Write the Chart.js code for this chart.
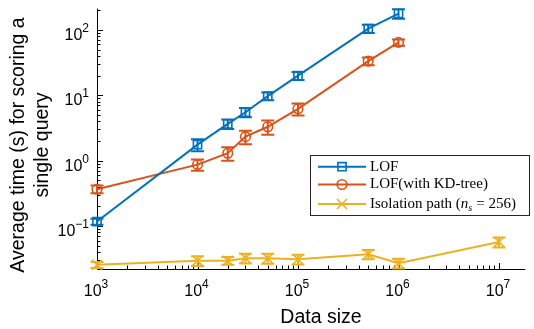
<!DOCTYPE html>
<html lang="en">
<head>
<meta charset="UTF-8">
<title>Scoring time vs data size</title>
<script src="https://cdn.jsdelivr.net/npm/chart.js"></script>
<style>
  html, body { margin: 0; padding: 0; background: #fff; }
  #wrap { width: 534px; height: 329px; }
</style>
</head>
<body>
<div id="wrap"><canvas id="timeChart" width="534" height="329"></canvas></div>
<script>
// data
const sizes = [1e3, 1e4, 2e4, 3e4, 5e4, 1e5, 5e5, 1e6];
const isoSizes = [1e3, 1e4, 2e4, 3e4, 5e4, 1e5, 5e5, 1e6, 1e7];

const lofTime = [0.117, 1.76, 3.65, 5.5, 9.7, 20, 105, 178];
const lofErr = [0.012, 0.37, 0.6, 0.9, 1.3, 2.8, 15, 30];

const kdTime = [0.366, 0.87, 1.30, 2.33, 3.3, 6.2, 33.4, 64.5];
const kdErr = [0.05, 0.17, 0.3, 0.55, 0.8, 1.3, 4.5, 7];

const isoTime = [0.0255, 0.0295, 0.0295, 0.0322, 0.032, 0.031, 0.037, 0.0269, 0.057];
const isoErr = [0.0027, 0.005, 0.004, 0.0055, 0.0055, 0.0053, 0.006, 0.0046, 0.01];

const xTickExps = [3, 4, 5, 6, 7];
const yTickExps = [-1, 0, 1, 2];

const BLUE = '#0072BD', ORANGE = '#D95319', YELLOW = '#EDB120';
const SANS = '"Liberation Sans", Arial, sans-serif';
const SERIF = '"Liberation Serif", "Times New Roman", serif';

function pts(xs, ys) {
    return xs.map((v, i) => ({ x: v, y: ys[i] }));
}

const series = [
    { label: 'LOF', xs: sizes, ys: lofTime, err: lofErr, color: BLUE, style: 'rect', r: 5.8 },
    { label: 'LOF(with KD-tree)', xs: sizes, ys: kdTime, err: kdErr, color: ORANGE, style: 'circle', r: 4.8 },
    { label: 'Isolation path', xs: isoSizes, ys: isoTime, err: isoErr, color: YELLOW, style: 'crossRot', r: 7 }
];

// draws "10" with a raised exponent
function drawPow(ctx, exp, x, y, align) {
    const ex = String(exp).replace('-', '\u2212');
    ctx.font = '16px ' + SANS;
    const wb = ctx.measureText('10').width;
    ctx.font = '12px ' + SANS;
    const we = ctx.measureText(ex).width;
    const start = align === 'right' ? x - wb - we : x - (wb + we) / 2;
    ctx.textAlign = 'left';
    ctx.textBaseline = 'alphabetic';
    ctx.font = '16px ' + SANS;
    ctx.fillText('10', start, y);
    ctx.font = '12px ' + SANS;
    ctx.fillText(ex, start + wb, y - 8);
}

const axesPlugin = {
    id: 'matlabAxes',
    beforeDatasetsDraw(chart) {
        const { ctx, chartArea: a, scales: { x, y } } = chart;
        ctx.save();
        ctx.strokeStyle = '#000';
        ctx.lineWidth = 1;
        ctx.beginPath();
        ctx.moveTo(a.left + 0.5, a.top);
        ctx.lineTo(a.left + 0.5, a.bottom + 0.5);
        ctx.lineTo(a.right, a.bottom + 0.5);
        // inward ticks, major and minor
        for (let e = 2; e <= 7; e++) {
            for (let m = 1; m < 10; m++) {
                const v = m * Math.pow(10, e);
                if (v < x.min || v > x.max) continue;
                const px = Math.round(x.getPixelForValue(v)) + 0.5;
                ctx.moveTo(px, a.bottom);
                ctx.lineTo(px, a.bottom - (m === 1 ? 6 : 3.5));
            }
        }
        for (let e = -2; e <= 2; e++) {
            for (let m = 1; m < 10; m++) {
                const v = m * Math.pow(10, e);
                if (v < y.min || v > y.max) continue;
                const py = Math.round(y.getPixelForValue(v)) + 0.5;
                ctx.moveTo(a.left, py);
                ctx.lineTo(a.left + (m === 1 ? 6 : 3.5), py);
            }
        }
        ctx.stroke();

        ctx.fillStyle = '#000';
        xTickExps.forEach(e => drawPow(ctx, e, x.getPixelForValue(Math.pow(10, e)) - 1, a.bottom + 27));
        yTickExps.forEach(e => drawPow(ctx, e, a.left - 8, y.getPixelForValue(Math.pow(10, e)) + 10, 'right'));

        // axis titles
        ctx.font = '19.5px ' + SANS;
        ctx.textAlign = 'center';
        ctx.textBaseline = 'alphabetic';
        ctx.fillText('Data size', 321, 323);
        ctx.save();
        ctx.rotate(-Math.PI / 2);
        ctx.textBaseline = 'middle';
        ctx.fillText('Average time (s) for scoring a', -145, 19);
        ctx.fillText('single query', -145, 43);
        ctx.restore();

        // error bars
        ctx.lineWidth = 2;
        series.forEach(s => {
            ctx.strokeStyle = s.color;
            ctx.beginPath();
            s.xs.forEach((xv, i) => {
                const px = x.getPixelForValue(xv);
                const lo = y.getPixelForValue(s.ys[i] - s.err[i]);
                const hi = y.getPixelForValue(s.ys[i] + s.err[i]);
                ctx.moveTo(px, lo); ctx.lineTo(px, hi);
                ctx.moveTo(px - 6.5, lo); ctx.lineTo(px + 6.5, lo);
                ctx.moveTo(px - 6.5, hi); ctx.lineTo(px + 6.5, hi);
            });
            ctx.stroke();
        });
        ctx.restore();
    },
    afterDraw(chart) {
        const ctx = chart.ctx;
        ctx.save();
        ctx.fillStyle = '#fff';
        ctx.fillRect(310.5, 155.5, 219, 60);
        ctx.strokeStyle = '#262626';
        ctx.lineWidth = 1;
        ctx.strokeRect(310.5, 155.5, 219, 60);
        const rows = [166.7, 184.5, 204];
        series.forEach((s, i) => {
            const ry = rows[i];
            ctx.strokeStyle = s.color;
            ctx.lineWidth = 2;
            ctx.beginPath();
            ctx.moveTo(318, ry); ctx.lineTo(366, ry);
            ctx.stroke();
            ctx.lineWidth = 1.6;
            ctx.fillStyle = 'rgba(0,0,0,0)';
            Chart.helpers.drawPoint(ctx, { pointStyle: s.style, radius: s.r, rotation: 0, borderWidth: 1.6 }, 342, ry);
            ctx.fillStyle = '#000';
            ctx.textAlign = 'left';
            ctx.textBaseline = 'middle';
            ctx.font = '15px ' + SERIF;
            ctx.fillText(s.label, 370, ry);
            if (i === 2) {
                let tx = 370 + ctx.measureText(s.label + ' (').width;
                ctx.fillText('(', 370 + ctx.measureText(s.label + ' ').width, ry);
                ctx.font = 'italic 15px ' + SERIF;
                ctx.fillText('n', tx, ry);
                tx += ctx.measureText('n').width;
                ctx.font = 'italic 10px ' + SERIF;
                ctx.fillText('s', tx, ry + 4);
                tx += ctx.measureText('s').width + 4;
                ctx.font = '15px ' + SERIF;
                ctx.fillText('= 256)', tx, ry);
            }
        });
        ctx.restore();
    }
};

new Chart(document.getElementById('timeChart'), {
    type: 'line',
    data: {
        datasets: series.map(s => ({
            label: s.label,
            data: pts(s.xs, s.ys),
            borderColor: s.color,
            backgroundColor: 'rgba(0,0,0,0)',
            borderWidth: 2,
            pointStyle: s.style,
            pointRadius: s.r,
            pointHoverRadius: s.r,
            pointBorderWidth: 1.6,
            pointBorderColor: s.color,
            pointBackgroundColor: 'rgba(0,0,0,0)',
            tension: 0,
            clip: false
        }))
    },
    options: {
        responsive: false,
        animation: false,
        events: [],
        layout: { padding: { left: 97, right: 1, top: 5, bottom: 60 } },
        plugins: { legend: { display: false }, tooltip: { enabled: false } },
        scales: {
            x: { type: 'logarithmic', min: 1000, max: 1.83e7, display: false },
            y: { type: 'logarithmic', min: 0.022, max: 212, display: false }
        }
    },
    plugins: [axesPlugin]
});
</script>
</body>
</html>
